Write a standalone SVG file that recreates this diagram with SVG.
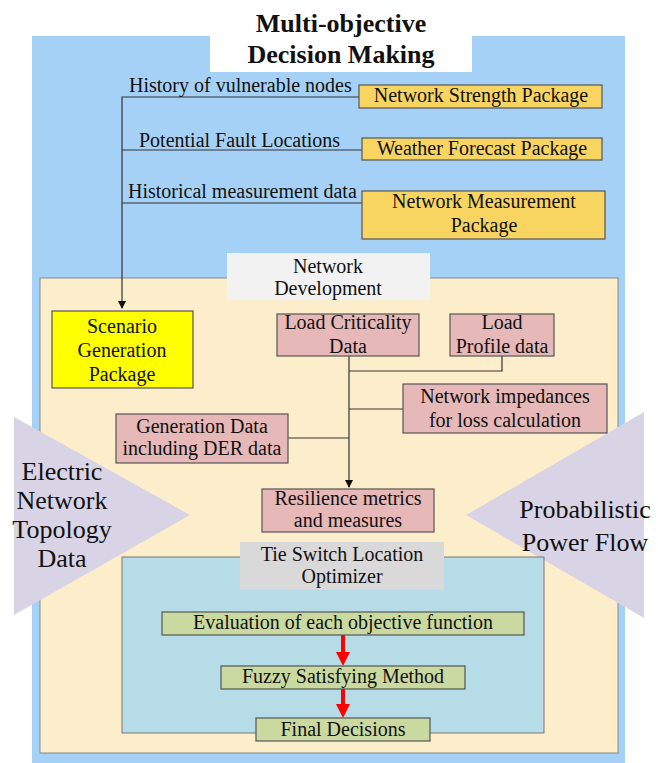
<svg xmlns="http://www.w3.org/2000/svg" width="658" height="763" viewBox="0 0 658 763" font-family="Liberation Serif, DejaVu Serif, serif">
<style>
text{font-family:'Liberation Serif','DejaVu Serif',serif;fill:#111;text-anchor:middle}
.t{font-size:20px}
.l{font-size:20px;text-anchor:start}
.big{font-size:26px}
.box{stroke:#555;stroke-width:1.2}
.pkg{fill:#F8D461}
.pink{fill:#E6B8B7}
.grn{fill:#C9D9A0}
.ln{stroke:#333;stroke-width:1.2;fill:none}
</style>
<defs>
<marker id="ah" markerWidth="8" markerHeight="8" refX="7" refY="4" orient="auto" markerUnits="userSpaceOnUse">
<path d="M0,0 L8,4 L0,8 Z" fill="#111"/>
</marker>
</defs>
<rect width="658" height="763" fill="#fff"/>
<g id="blue-bg"><rect x="32" y="36" width="593" height="727" fill="#A6D1F6"/></g>
<g id="title"><rect x="210" y="10" width="262" height="62" fill="#fff"/>
<text x="341" y="32" style="font-size:26px;font-weight:bold">Multi-objective</text>
<text x="341" y="63" style="font-size:26px;font-weight:bold">Decision Making</text></g>
<g id="cream-bg"><rect x="40" y="278" width="578" height="475" fill="#FDEECB" stroke="#888" stroke-width="1"/></g>
<g id="triangles">
<polygon points="14,417 190,515 14,615" fill="#D9D4E5"/>
<polygon points="644,412 466,515 644,618" fill="#D9D4E5"/>
</g>
<g id="netdev-label"><rect x="227" y="253" width="203" height="47" fill="#F2F2F2"/>
<text class="t" x="328" y="273">Network</text><text class="t" x="328" y="295">Development</text></g>
<g id="optimizer-bg"><rect x="122" y="557" width="422" height="176" fill="#B6DCE8" stroke="#777" stroke-width="1"/></g>
<g id="optimizer-label"><rect x="240" y="542" width="204" height="48" fill="#D9D9D9"/>
<text class="t" x="342" y="561">Tie Switch Location</text><text class="t" x="342" y="583">Optimizer</text></g>
<g id="left-label"><text class="big" x="62" y="480">Electric</text><text class="big" x="62" y="509">Network</text><text class="big" x="62" y="538">Topology</text><text class="big" x="62" y="567">Data</text></g>
<g id="right-label"><text class="big" x="585" y="518">Probabilistic</text><text class="big" x="585" y="551">Power Flow</text></g>
<g id="connectors">
<path class="ln" d="M359,97 H122 V308" marker-end="url(#ah)"/>
<path class="ln" d="M362,150 H122"/>
<path class="ln" d="M362,203 H122"/>
<path class="ln" d="M349,356 V487" marker-end="url(#ah)"/>
<path class="ln" d="M502,356 V371 H349"/>
<path class="ln" d="M403,409 H349"/>
<path class="ln" d="M288,438 H349"/>
<path d="M343,635 V654" stroke="#F00" stroke-width="4"/><path d="M336,652 L350,652 L343,666 Z" fill="#F00"/>
<path d="M343,689 V706" stroke="#F00" stroke-width="4"/><path d="M336,704 L350,704 L343,718 Z" fill="#F00"/>
</g>
<g id="edge-labels">
<text class="l" x="129" y="92">History of vulnerable nodes</text>
<text class="l" x="139" y="147">Potential Fault Locations</text>
<text class="l" x="128" y="198">Historical measurement data</text>
</g>
<g id="network-strength"><rect class="box pkg" x="359" y="85" width="243" height="23"/><text class="t" x="481" y="102">Network Strength Package</text></g>
<g id="weather"><rect class="box pkg" x="362" y="138" width="240" height="22"/><text class="t" x="482" y="155">Weather Forecast Package</text></g>
<g id="measurement"><rect class="box pkg" x="362" y="191" width="243" height="48"/><text class="t" x="484" y="208">Network Measurement</text><text class="t" x="484" y="232">Package</text></g>
<g id="scenario"><rect class="box" x="52" y="311" width="141" height="77" fill="#FFFF00"/><text class="t" x="122" y="333">Scenario</text><text class="t" x="122" y="357">Generation</text><text class="t" x="122" y="381">Package</text></g>
<g id="load-criticality"><rect class="box pink" x="277" y="314" width="142" height="42"/><text class="t" x="348" y="329">Load Criticality</text><text class="t" x="348" y="353">Data</text></g>
<g id="load-profile"><rect class="box pink" x="450" y="314" width="104" height="42"/><text class="t" x="502" y="329">Load</text><text class="t" x="502" y="353">Profile data</text></g>
<g id="impedances"><rect class="box pink" x="403" y="384" width="204" height="49"/><text class="t" x="505" y="403">Network impedances</text><text class="t" x="505" y="427">for loss calculation</text></g>
<g id="generation"><rect class="box pink" x="116" y="414" width="172" height="49"/><text class="t" x="202" y="433">Generation Data</text><text class="t" x="202" y="455">including DER data</text></g>
<g id="resilience"><rect class="box pink" x="262" y="489" width="172" height="43"/><text class="t" x="348" y="505">Resilience metrics</text><text class="t" x="348" y="527">and measures</text></g>
<g id="evaluation"><rect class="box grn" x="162" y="612" width="362" height="23"/><text class="t" x="343" y="629">Evaluation of each objective function</text></g>
<g id="fuzzy"><rect class="box grn" x="221" y="666" width="244" height="23"/><text class="t" x="343" y="683">Fuzzy Satisfying Method</text></g>
<g id="final"><rect class="box grn" x="256" y="718" width="174" height="23"/><text class="t" x="343" y="736">Final Decisions</text></g>
</svg>
